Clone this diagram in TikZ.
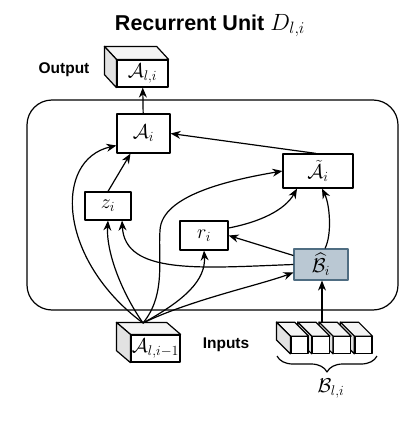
\documentclass[tikz,border=0pt]{standalone}
\usepackage{fix-cm}
\usepackage{fontspec}
\setsansfont{Liberation Sans}
\usepackage{amsmath,amssymb}
\definecolor{gateblue}{HTML}{BAC8D3}
\definecolor{gateedge}{HTML}{4F6D82}
\definecolor{sidegray}{RGB}{226,226,226}
\definecolor{topgray}{RGB}{244,244,244}
\usetikzlibrary{arrows.meta,positioning,calc,decorations.pathreplacing}
\newcommand{\gatefont}{\fontsize{20}{22}\selectfont}
\newcommand{\labfont}{\fontsize{15.5}{18}\selectfont\sffamily\bfseries}
% top and left faces of a box seen from the upper left
\newcommand{\cubefaces}[3]{%
  \draw[fill=topgray] (#1.north west) -- ++(-#2,-#3) -- ([shift={(-#2,-#3)}]#1.north east) -- (#1.north east) -- cycle;
  \draw[fill=sidegray] (#1.north west) -- ++(-#2,-#3) -- ([shift={(-#2,-#3)}]#1.south west) -- (#1.south west) -- cycle;
}

\begin{document}
\begin{tikzpicture}[x=1pt,y=-1pt,line width=1.2pt,line join=round,
  >={Stealth[length=10pt,width=8pt]},
  gate/.style={draw,fill=white,inner sep=0pt,font=\gatefont},
  cube/.style={draw,fill=white,inner sep=0pt,font=\gatefont}]
  \useasboundingbox (0,0) rectangle (408,423);

  \node[anchor=base,font=\fontsize{21.5}{24}\selectfont\sffamily\bfseries] (title) at (210,30) {Recurrent Unit {\fontsize{23.5}{26}\selectfont$D_{l,i}$}};

  % recurrent unit
  \draw[rounded corners=25pt] (27,100) rectangle (398,310);

  \node[gate,minimum width=53pt,minimum height=39pt] (Ai) at (143.5,133.5) {$\mathcal{A}_i$};
  \node[gate,minimum width=70pt,minimum height=34pt] (At) at (318,171) {$\tilde{\mathcal{A}}_i$};
  \node[gate,minimum width=46pt,minimum height=28pt] (zi) at (108,206) {$z_i$};
  \node[gate,minimum width=48pt,minimum height=29pt] (ri) at (204,235.5) {$r_i$};
  \node[gate,fill=gateblue,draw=gateedge,minimum width=54pt,minimum height=31pt] (Bh) at (321,264.5) {$\widehat{\mathcal{B}}_i$};

  % output
  \node[cube,minimum width=51pt,minimum height=27pt] (out) at (142.5,73.5) {$\mathcal{A}_{l,i}$};
  \cubefaces{out}{12}{13}
  \node[anchor=base,font=\labfont] (outlab) at (64,73) {Output};

  % inputs
  \node[cube,minimum width=49pt,minimum height=27pt] (ain) at (155.5,348.5) {$\mathcal{A}_{l,i-1}$};
  \cubefaces{ain}{14}{12}
  \coordinate (fan) at (143,323);
  \node[anchor=base,font=\labfont] (inlab) at (226,348) {Inputs};

  \foreach \k in {3,2,1,0} {
    \node[cube,minimum width=17pt,minimum height=16.5pt] (b\k) at ({299.5+21.3*\k},345) {};
    \cubefaces{b\k}{14}{14}
  }
  \coordinate (stacktop) at (322,323);
  \draw[decorate,decoration={brace,mirror,amplitude=16pt}] (277,356) -- (377,356);
  \node[font=\gatefont] (blab) at (331,389) {$\mathcal{B}_{l,i}$};

  % connections
  \draw[->] (Ai) -- (out);
  \draw[->] ([xshift=-2pt]At.north) -- (Ai.east);
  \draw[->] (zi.north) -- ([xshift=-13pt]Ai.south);
  \draw[->] (fan) .. controls (58,260) and (53,160) .. ([yshift=-12pt]Ai.west);
  \draw[->] (fan) .. controls (120,290) and (106,250) .. (zi.south);
  \draw[->] (fan) .. controls (185,300) and (206,280) .. (ri.south);
  \draw[->] (fan) .. controls (166,295) and (158,260) .. (160,230)
                  .. controls (162,195) and (230,180) .. (At.west);
  \draw[->] (fan) .. controls (190,300) and (260,285) .. ([yshift=-8pt]Bh.west);
  \draw[->] (Bh.west) .. controls (200,268) and (125,275) .. ([xshift=14pt]zi.south);
  \draw[->] ([yshift=9pt]Bh.west) -- (ri.east);
  \draw[->] ([yshift=7.5pt]ri.east) .. controls (260,222) and (285,210) .. ([xshift=-21pt]At.south);
  \draw[->] ([xshift=4pt]Bh.north) .. controls (332,235) and (330,205) .. ([xshift=4pt]At.south);
  \draw[->] (stacktop) -- (stacktop |- Bh.south);
\end{tikzpicture}
\end{document}
